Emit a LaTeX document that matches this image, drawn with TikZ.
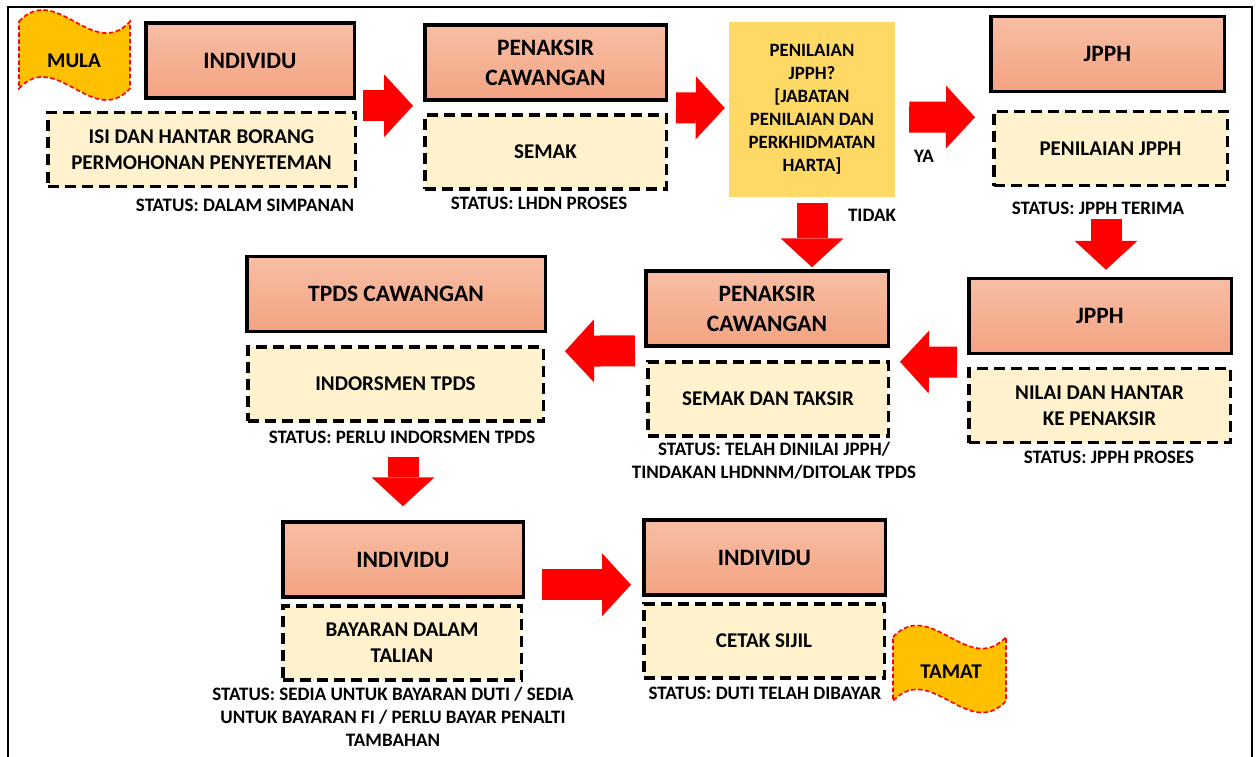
\documentclass[tikz,border=0pt]{standalone}
\usepackage{fontspec}
\setmainfont{Carlito}
\usetikzlibrary{arrows.meta}
\definecolor{hdrtop}{RGB}{247,190,164}
\definecolor{hdrbot}{RGB}{244,163,130}
\definecolor{taskfill}{RGB}{255,242,204}
\definecolor{askfill}{RGB}{255,217,102}
\definecolor{flagfill}{RGB}{255,192,0}
\tikzstyle{actor}=[draw=black, line width=3.5pt, top color=hdrtop, bottom color=hdrbot, minimum height=75pt, align=center, font=\fontsize{23.5}{30}\selectfont\bfseries]
\tikzstyle{task}=[draw=black, line width=3.5pt, dash pattern=on 11pt off 6pt, fill=taskfill, minimum height=74pt, align=center, font=\fontsize{21}{26}\selectfont\bfseries]
\tikzstyle{status}=[inner sep=0pt, align=center, font=\fontsize{19}{23}\selectfont\bfseries]
\tikzstyle{ask}=[fill=askfill, minimum width=166pt, minimum height=175pt, align=center, font=\fontsize{18.8}{23}\selectfont\bfseries]
\tikzstyle{flag}=[draw=red, line width=1.6pt, dash pattern=on 4.5pt off 2.5pt, fill=flagfill]
\tikzstyle{flagtext}=[inner sep=0pt, font=\fontsize{21}{24}\selectfont\bfseries]
\tikzstyle{bigarrow}=[red, line width=31pt, -{Triangle[length=29pt, width=63pt, line width=0pt]}]
\newcommand{\flagshape}[4]{%
  \draw[flag] (#1,#2) .. controls ({#1+#3/3},{#2-40}) and ({#1+2*#3/3},{#2+40}) .. ({#1+#3},#2)
    -- ({#1+#3},{#2+#4}) .. controls ({#1+2*#3/3},{#2+#4+40}) and ({#1+#3/3},{#2+#4-40}) .. (#1,{#2+#4}) -- cycle;}

\begin{document}
\begin{tikzpicture}[x=1pt, y=-1pt]
\useasboundingbox (0,0) rectangle (1256,757);
\draw[line width=1.8pt] (8,765) -- (8,7) -- (1252,7) -- (1252,765);

\flagshape{19}{21.5}{111}{67}
\node[flagtext] (mula) at (74,61) {MULA};
\flagshape{893}{637}{113}{64}
\node[flagtext] (tamat) at (951,672) {TAMAT};

\node[actor, minimum width=208.5pt] (ind1) at (250,60.5) {INDIVIDU};
\node[task, minimum width=307.5pt] (isi) at (201.5,149.5) {ISI DAN HANTAR BORANG\\PERMOHONAN PENYETEMAN};
\node[status] (st1) at (245,205) {STATUS: DALAM SIMPANAN};

\node[actor, minimum width=241.5pt] (pen1) at (545.5,62.5) {PENAKSIR\\CAWANGAN};
\node[task, minimum width=241.5pt] (semak) at (545.5,152) {SEMAK};
\node[status] (st2) at (539,203) {STATUS: LHDN PROSES};

\node[ask] (ask) at (812,109.5) {PENILAIAN\\JPPH?\\{[}JABATAN\\PENILAIAN DAN\\PERKHIDMATAN\\HARTA{]}};
\node[status] (ya) at (924,156) {YA};
\node[status] (tidak) at (872,215) {TIDAK};

\node[actor, minimum width=233.5pt] (jpph1) at (1107.5,54) {JPPH};
\node[task, minimum width=233.5pt] (nilaijpph) at (1110.5,148.5) {PENILAIAN JPPH};
\node[status] (st3) at (1098,208) {STATUS: JPPH TERIMA};

\node[actor, minimum width=262.5pt] (jpph2) at (1100,316) {JPPH};
\node[task, minimum width=261.5pt] (nilai) at (1099.5,405.5) {NILAI DAN HANTAR\\KE PENAKSIR};
\node[status] (st4) at (1109,457) {STATUS: JPPH PROSES};

\node[actor, minimum width=242.5pt] (pen2) at (767,308.5) {PENAKSIR\\CAWANGAN};
\node[task, minimum width=240.5pt] (taksir) at (768,399) {SEMAK DAN TAKSIR};
\node[status] (st5) at (774,461) {STATUS: TELAH DINILAI JPPH/\\TINDAKAN LHDNNM/DITOLAK TPDS};

\node[actor, minimum width=298.5pt] (tpds) at (396,294) {TPDS CAWANGAN};
\node[task, minimum width=295.5pt] (indors) at (395.5,384) {INDORSMEN TPDS};
\node[status] (st6) at (402,437) {STATUS: PERLU INDORSMEN TPDS};

\node[actor, minimum width=240.5pt] (ind2) at (403,559.5) {INDIVIDU};
\node[task, minimum width=238.5pt] (bayar) at (402,643) {BAYARAN DALAM\\TALIAN};
\node[status] (st7) at (393,717) {STATUS: SEDIA UNTUK BAYARAN DUTI / SEDIA\\UNTUK BAYARAN FI / PERLU BAYAR PENALTI\\TAMBAHAN};

\node[actor, minimum width=241.5pt] (ind3) at (764.5,557.5) {INDIVIDU};
\node[task, minimum width=240.5pt] (cetak) at (764,641) {CETAK SIJIL};
\node[status] (st8) at (765,693) {STATUS: DUTI TELAH DIBAYAR};

\draw[bigarrow] ([shift={(7,6)}]ind1.south east) -- ([shift={(-10,4)}]pen1.south west);
\draw[bigarrow] ([shift={(8,6)}]pen1.south east) -- ([shift={(-4,-1.5)}]ask.west);
\draw[bigarrow] ([shift={(14,7.5)}]ask.east) -- ([shift={(-14,24)}]jpph1.south west);
\draw[bigarrow] ([shift={(0,6)}]ask.south) -- ([shift={(45,-2)}]pen2.north);
\draw[bigarrow] ([shift={(-4.5,32)}]nilaijpph.south) -- ([shift={(6,-7)}]jpph2.north);
\draw[bigarrow] ([shift={(-10,7)}]jpph2.south west) -- ([shift={(10,14)}]pen2.south east);
\draw[bigarrow] ([shift={(-9,3)}]pen2.south west) -- ([shift={(18,18)}]tpds.south east);
\draw[bigarrow] ([shift={(7.5,34)}]indors.south) -- ([shift={(0,-14)}]ind2.north);
\draw[bigarrow] ([shift={(17,-14)}]ind2.south east) -- ([shift={(-11,-12)}]ind3.south west);
\end{tikzpicture}
\end{document}
